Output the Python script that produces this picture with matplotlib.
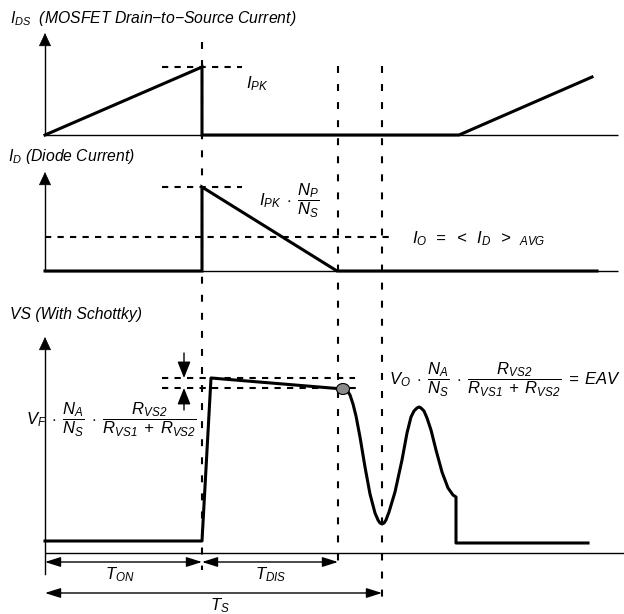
import matplotlib
matplotlib.use("Agg")
import matplotlib.pyplot as plt
from matplotlib.patches import FancyArrowPatch, Ellipse

plt.rcParams['font.family'] = ['Liberation Sans', 'DejaVu Sans']
plt.rcParams['mathtext.fontset'] = 'custom'
plt.rcParams['mathtext.it'] = 'Liberation Sans:italic'
plt.rcParams['mathtext.rm'] = 'Liberation Sans:italic'
plt.rcParams['mathtext.sf'] = 'Liberation Sans:italic'
plt.rcParams['lines.scale_dashes'] = False

# ---------------- data (diagram coordinates) -------------
# I_DS waveform
ids_x = [45, 202, 202, 459, 592]
ids_y = [135, 67, 135, 135, 77]
# I_D waveform
id_x = [45, 202, 202, 337, 597]
id_y = [271, 271, 187, 271, 271]
# VS waveform: pulse + ringing
vs_x = [45, 202, 211, 343, 347, 350, 353, 356, 360, 365, 370, 375, 378, 380, 382, 384, 386,
        389, 395, 402, 407, 411, 414, 417, 419, 421, 424, 427, 431, 436, 442, 448, 453, 456, 456, 588]
vs_y = [541, 541, 378, 389, 390, 395, 404, 416, 437, 467, 494, 513, 520, 523, 524, 523, 520,
        512, 492, 460, 433, 417, 411, 408, 407, 408, 411, 418, 430, 450, 472, 488, 495, 497, 543, 543]
knee_point = (343, 389)

# panel axes: (baseline y, axis bottom y, arrow tip y, baseline right end)
panel_axes = [(135, 135, 33, 618), (271, 271, 172, 618), (553, 574, 337, 624)]
axis_x = 45

# dashed guides
vguides = [(202, 42, 570), (338, 66, 570), (382, 66, 597)]
hguides = [(67, 162, 242), (187, 162, 242), (237, 45, 395), (378, 162, 355), (388, 162, 362)]

# timing arrows: (x0, x1, y)
time_arrows = [(45, 202, 562), (202, 338, 562), (45, 382, 593)]
# small delta arrows at x: (y_from, y_to)
delta_x = 184
delta_arrows = [(353, 378), (410, 388)]

titles = [(r'$I_{DS}$  (MOSFET Drain−to−Source Current)', 10, 18),
          (r'$I_D$ (Diode Current)', 8, 157),
          ('VS (With Schottky)', 10, 315)]
labels = [(r'$I_{PK}$', 246, 84, 'left', 12),
          (r'$I_{PK}\;\cdot\;\dfrac{N_P}{N_S}$', 259, 201, 'left', 12),
          (r'$I_O\;\,=\;\,<\;\;I_D\;\;>\;\,{}_{AVG}$', 412, 239, 'left', 12),
          (r'$V_F\;\cdot\;\dfrac{N_A}{N_S}\;\cdot\;\dfrac{R_{VS2}}{R_{VS1}\;+\;R_{VS2}}$', 196, 420, 'right', 12),
          (r'$V_O\;\cdot\;\dfrac{N_A}{N_S}\;\cdot\;\dfrac{R_{VS2}}{R_{VS1}\;+\;R_{VS2}}\;=\;EAV$', 389, 380, 'left', 12),
          (r'$T_{ON}$', 120, 575, 'center', 12),
          (r'$T_{DIS}$', 271, 575, 'center', 12),
          (r'$T_S$', 220, 606, 'center', 12)]

# ---------------- drawing -------------------------------------------------------
fig = plt.figure(figsize=(6.24, 6.14), dpi=100)
ax = fig.add_axes([0, 0, 1, 1])
ax.set_xlim(0, 624)
ax.set_ylim(614, 0)
ax.axis('off')

thin = 1.0
thick = 2.2

for base, bottom, tip, right in panel_axes:
    ax.plot([axis_x, right], [base, base], color='black', lw=thin, solid_capstyle='butt')
    ax.plot([axis_x, axis_x], [bottom, tip + 10], color='black', lw=thin)
    ax.add_patch(FancyArrowPatch((axis_x, tip + 12), (axis_x, tip),
                                 arrowstyle='-|>,head_length=0.86,head_width=0.4',
                                 mutation_scale=10, color='black', lw=0.5,
                                 shrinkA=0, shrinkB=0))

for x, y0, y1 in vguides:
    ax.plot([x, x], [y0, y1], color='black', lw=1.5, linestyle=(0, (5, 8)))
for y, x0, x1 in hguides:
    ax.plot([x0, x1], [y, y], color='black', lw=1.5, linestyle=(0, (4.5, 4.5)))

ax.plot(ids_x, ids_y, color='black', lw=thick, solid_joinstyle='miter')
ax.plot(id_x, id_y, color='black', lw=thick, solid_joinstyle='miter')
ax.plot(vs_x, vs_y, color='black', lw=thick, solid_joinstyle='round')

ax.add_patch(Ellipse(knee_point, 13, 11, facecolor='#8a8a8a', edgecolor='black', lw=0.8, zorder=5))

for x0, x1, y in time_arrows:
    ax.add_patch(FancyArrowPatch((x0, y), (x1, y),
                                 arrowstyle='<|-|>,head_length=0.95,head_width=0.3',
                                 mutation_scale=10, color='black', lw=thin,
                                 shrinkA=0, shrinkB=0))

for y0, y1 in delta_arrows:
    ax.add_patch(FancyArrowPatch((delta_x, y0), (delta_x, y1),
                                 arrowstyle='-|>,head_length=1.0,head_width=0.4',
                                 mutation_scale=10, color='black', lw=thin,
                                 shrinkA=0, shrinkB=0))

for s, x, y in titles:
    ax.text(x, y, s, fontsize=11.3, style='italic', ha='left', va='center')
for s, x, y, ha, fs in labels:
    ax.text(x, y, s, fontsize=fs, ha=ha, va='center')

fig.savefig('out.png', dpi=100)
